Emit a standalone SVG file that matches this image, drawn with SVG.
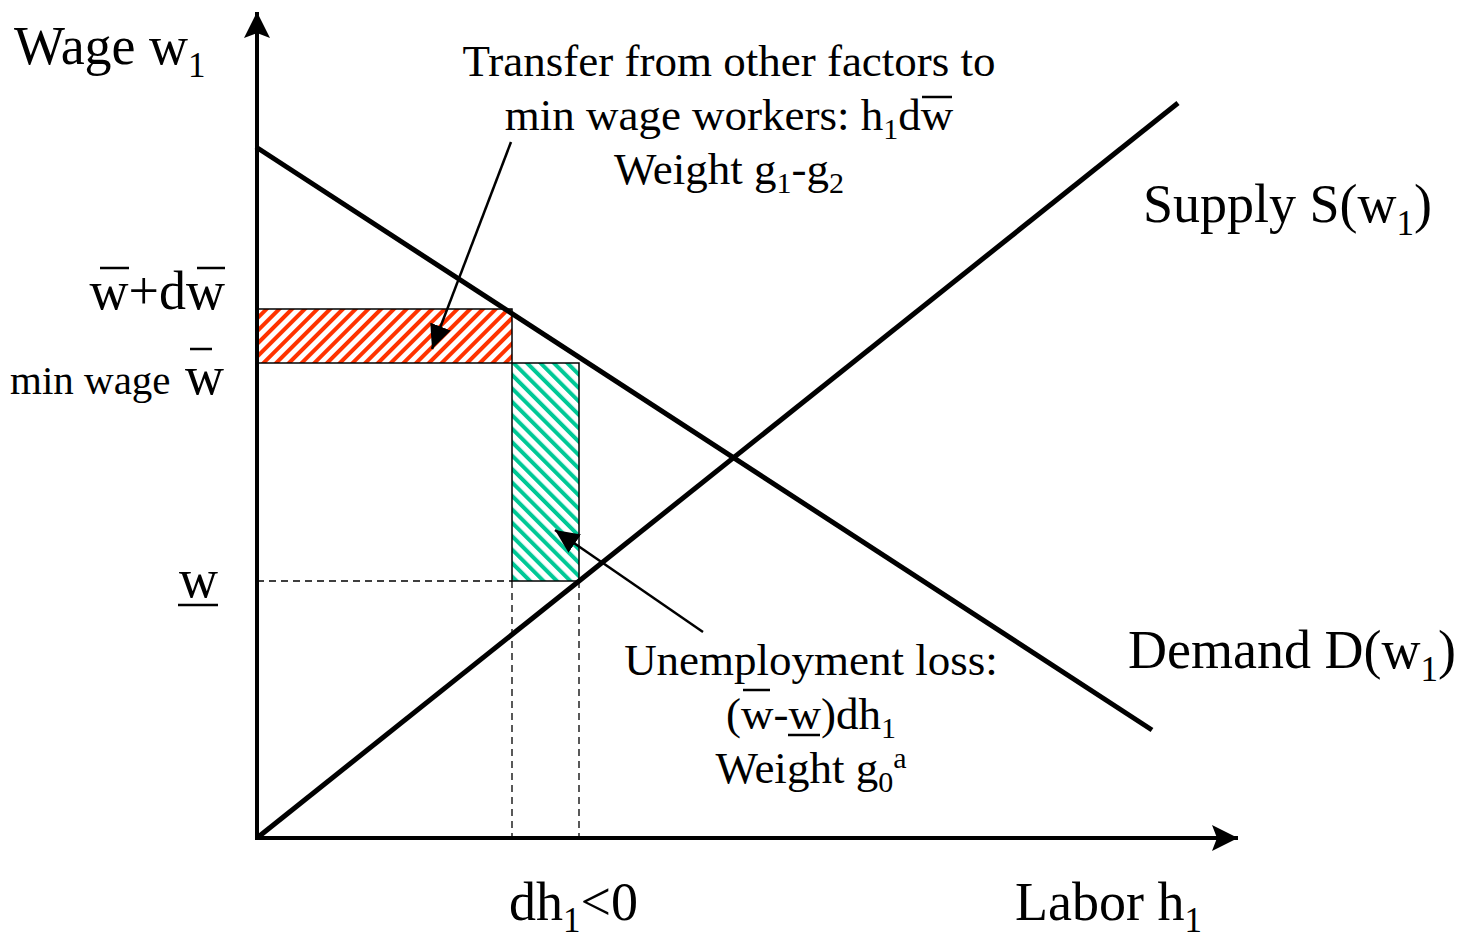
<svg xmlns="http://www.w3.org/2000/svg" width="1463" height="940" viewBox="0 0 1463 940">
<style>
text{font-family:"Liberation Serif","Times New Roman",serif;fill:#000}
.big{font-size:54px}
.ann{font-size:45px}
.sub{font-size:35px}
.asub{font-size:30px}
.axis{stroke:#000;stroke-width:4;fill:none}
.curve{stroke:#000;stroke-width:5;fill:none}
.ptr{stroke:#000;stroke-width:2.5;fill:none}
.dash{stroke:#000;stroke-width:1.3;stroke-dasharray:7 5;fill:none}
.bar{stroke:#000;stroke-width:2.5}
</style>
<defs>
<pattern id="hatchRed" patternUnits="userSpaceOnUse" width="9" height="9" patternTransform="rotate(45)">
<rect width="9" height="9" fill="#fff"/>
<line x1="2" y1="0" x2="2" y2="9" stroke="#ff3300" stroke-width="4"/>
</pattern>
<pattern id="hatchGreen" patternUnits="userSpaceOnUse" width="9.5" height="9.5" patternTransform="rotate(-45)">
<rect width="9.5" height="9.5" fill="#fff"/>
<line x1="2" y1="0" x2="2" y2="9.5" stroke="#00c896" stroke-width="4"/>
</pattern>
<marker id="axHead" markerWidth="28" markerHeight="26" refX="26" refY="13" orient="auto" markerUnits="userSpaceOnUse">
<path d="M0,0 L26,13 L0,26 L5,13 Z" fill="#000"/>
</marker>
<marker id="ptrHead" markerWidth="26" markerHeight="22" refX="24" refY="11" orient="auto" markerUnits="userSpaceOnUse">
<path d="M0,0 L24,11 L0,22 Z" fill="#000"/>
</marker>
</defs>

<g id="areas">
<rect id="transfer-area" x="257" y="309" width="255" height="54" fill="url(#hatchRed)" stroke="#000" stroke-width="1.5"/>
<rect id="loss-area" x="512" y="363" width="67" height="218" fill="url(#hatchGreen)" stroke="#000" stroke-width="1.5"/>
</g>

<g id="guides">
<line class="dash" x1="257" y1="581" x2="512" y2="581"/>
<line class="dash" x1="512" y1="581" x2="512" y2="838"/>
<line class="dash" x1="579" y1="581" x2="579" y2="838"/>
</g>

<g id="curves">
<line id="demand" class="curve" x1="256" y1="147" x2="1152" y2="730"/>
<line id="supply" class="curve" x1="257" y1="838" x2="1178" y2="103"/>
</g>

<g id="axes">
<line id="y-axis" class="axis" x1="257" y1="840" x2="257" y2="12" marker-end="url(#axHead)"/>
<line id="x-axis" class="axis" x1="255" y1="838" x2="1238" y2="838" marker-end="url(#axHead)"/>
</g>

<g id="connectors">
<line class="ptr" x1="511" y1="142" x2="432" y2="349" marker-end="url(#ptrHead)"/>
<line class="ptr" x1="703" y1="632" x2="555" y2="530" marker-end="url(#ptrHead)"/>
</g>

<g id="label-wage">
<text class="big" x="14" y="64">Wage w<tspan class="sub" dy="13">1</tspan></text>
</g>

<g id="label-transfer">
<text class="ann" text-anchor="middle" x="729" y="76">Transfer from other factors to</text>
<text class="ann" text-anchor="middle" x="729" y="130">min wage workers: h<tspan class="asub" dy="9">1</tspan><tspan dy="-9">dw</tspan></text>
<text class="ann" text-anchor="middle" x="729" y="184">Weight g<tspan class="asub" dy="9">1</tspan><tspan dy="-9">-g</tspan><tspan class="asub" dy="9">2</tspan></text>
<line class="bar" x1="922" y1="97" x2="952" y2="97"/>
</g>

<g id="label-supply">
<text class="big" x="1143" y="222">Supply S(w<tspan class="sub" dy="13">1</tspan><tspan dy="-13">)</tspan></text>
</g>

<g id="label-demand">
<text class="big" x="1128" y="668">Demand D(w<tspan class="sub" dy="13">1</tspan><tspan dy="-13">)</tspan></text>
</g>

<g id="label-wbar-dw">
<text class="big" text-anchor="end" x="225" y="309">w+dw</text>
<line class="bar" x1="100" y1="268" x2="129" y2="268"/>
<line class="bar" x1="197" y1="268" x2="225" y2="268"/>
</g>

<g id="label-minwage">
<text x="10" y="394" font-size="41">min wage</text>
<text class="big" x="185" y="394">w</text>
<line class="bar" x1="190" y1="349" x2="212" y2="349"/>
</g>

<g id="label-wunder">
<text class="big" x="179" y="597">w</text>
<line class="bar" x1="178" y1="605" x2="218" y2="605"/>
</g>

<g id="label-loss">
<text class="ann" text-anchor="middle" x="811" y="675">Unemployment loss:</text>
<text class="ann" text-anchor="middle" x="811" y="729">(w-w)dh<tspan class="asub" dy="9">1</tspan></text>
<text class="ann" text-anchor="middle" x="811" y="783">Weight g<tspan class="asub" dy="9">0</tspan><tspan class="asub" dy="-24">a</tspan></text>
<line class="bar" x1="743" y1="690" x2="770" y2="690"/>
<line class="bar" x1="788" y1="735" x2="820" y2="735"/>
</g>

<g id="label-dh">
<text class="big" x="509" y="920">dh<tspan class="sub" dy="12">1</tspan><tspan dy="-12">&lt;0</tspan></text>
</g>

<g id="label-labor">
<text class="big" x="1015" y="920">Labor h<tspan class="sub" dy="12">1</tspan></text>
</g>
</svg>
